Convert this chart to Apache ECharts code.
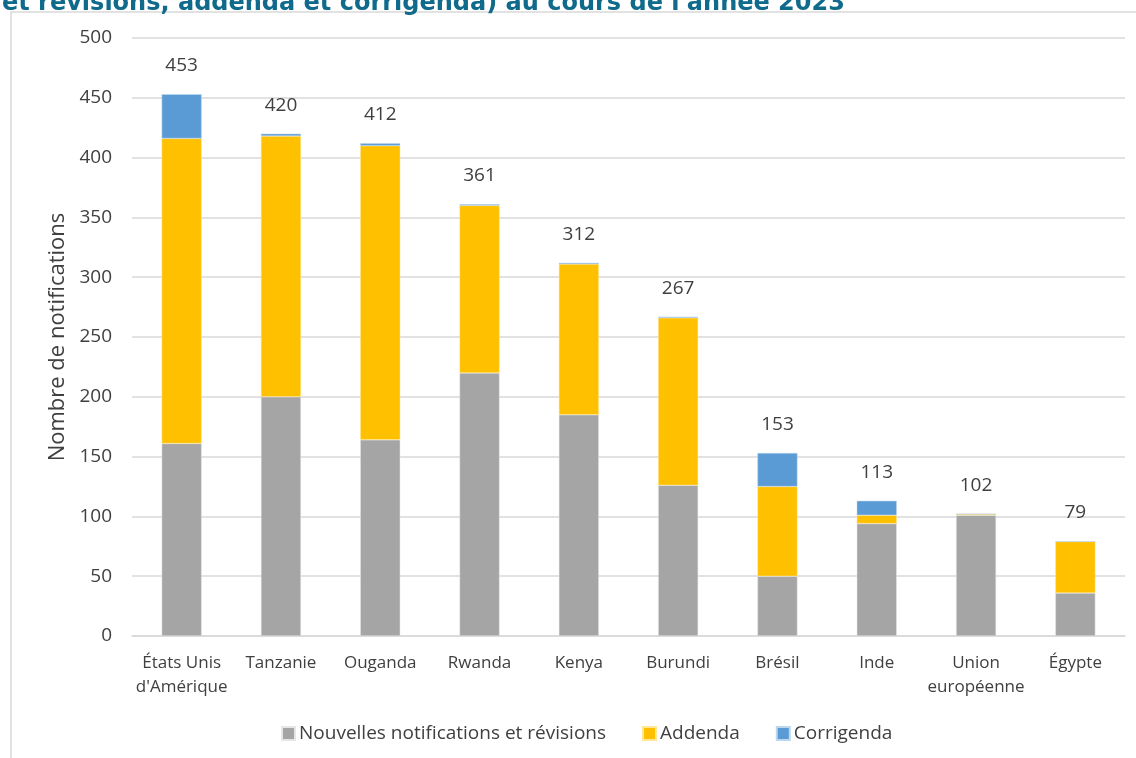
<!DOCTYPE html>
<html>
<head>
<meta charset="utf-8">
<script src="https://cdn.jsdelivr.net/npm/echarts@6/dist/echarts.min.js"></script>
<style>
  html, body { margin: 0; padding: 0; background: #ffffff; }
  #chart { width: 1136px; height: 758px; }
</style>
</head>
<body>
<div id="chart"></div>
<script>
// Notifications by member, 2023
const categories = ["États Unis\nd'Amérique", 'Tanzanie', 'Ouganda', 'Rwanda', 'Kenya', 'Burundi', 'Brésil', 'Inde', 'Union\neuropéenne', 'Égypte'];
const nouvelles  = [161, 200, 164, 220, 185, 126, 50, 94, 101, 36];
const addenda    = [255, 218, 246, 140, 126, 140, 75,  7,   1, 43];
const corrigenda = [ 37,   2,   2,   1,   1,   1, 28, 12,   0,  0];
const seriesNames = ['Nouvelles notifications et révisions', 'Addenda', 'Corrigenda'];
const yTicks = { min: 0, max: 500, interval: 50 };

const totals = categories.map((_, i) => nouvelles[i] + addenda[i] + corrigenda[i]);

const FONT = 'Open Sans';
const TEXT = '#404040';
const chart = echarts.init(document.getElementById('chart'), null, { renderer: 'canvas' });

chart.setOption({
  backgroundColor: '#ffffff',
  animation: false,
  textStyle: { fontFamily: FONT },
  graphic: [
    {
      type: 'rect',
      shape: { x: 11, y: 12, width: 1200, height: 800 },
      style: { fill: 'none', stroke: '#d9d9d9', lineWidth: 1.5 },
      silent: true, z: -10
    },
    {
      type: 'text',
      x: 2, y: -8,
      style: {
        text: "et révisions, addenda et corrigenda) au cours de l'année 2023",
        font: 'bold 24px "DejaVu Sans"',
        fill: '#0f6a8b',
        align: 'left', verticalAlign: 'top'
      },
      silent: true
    }
  ],
  grid: { left: 132, right: 11, top: 38, bottom: 122, containLabel: false },
  legend: {
    bottom: 10,
    left: 276,
    itemWidth: 13, itemHeight: 13, itemGap: 36,
    icon: 'rect',
    textStyle: { fontSize: 19, color: TEXT, fontFamily: FONT, padding: [0, 0, 0, -1] },
    data: seriesNames
  },
  xAxis: {
    type: 'category',
    data: categories,
    axisLine: { lineStyle: { color: '#d9d9d9', width: 1.5 } },
    axisTick: { show: false },
    axisLabel: { color: TEXT, fontSize: 17, margin: 15, lineHeight: 24, interval: 0 }
  },
  yAxis: {
    type: 'value',
    min: yTicks.min, max: yTicks.max, interval: yTicks.interval,
    name: 'Nombre de notifications',
    nameLocation: 'middle',
    nameGap: 62,
    nameTextStyle: { color: TEXT, fontSize: 22, fontFamily: FONT },
    axisLine: { show: false },
    axisTick: { show: false },
    axisLabel: { color: TEXT, fontSize: 19, margin: 20 },
    splitLine: { lineStyle: { color: '#d9d9d9', width: 1.5 } }
  },
  series: [
    {
      name: seriesNames[0], type: 'bar', stack: 'total', barWidth: 40,
      data: nouvelles,
      itemStyle: { color: '#a5a5a5', borderColor: '#e6e6e6', borderWidth: 0.5 }
    },
    {
      name: seriesNames[1], type: 'bar', stack: 'total', barWidth: 40,
      data: addenda,
      itemStyle: { color: '#ffc000', borderColor: '#ffe699', borderWidth: 0.5 }
    },
    {
      name: seriesNames[2], type: 'bar', stack: 'total', barWidth: 40,
      data: corrigenda,
      itemStyle: { color: '#5b9bd5', borderColor: '#bdd7ee', borderWidth: 0.5 },
      label: {
        show: true, position: 'top', distance: 19,
        color: TEXT, fontSize: 19, fontFamily: FONT,
        formatter: p => String(totals[p.dataIndex])
      }
    }
  ]
});
</script>
</body>
</html>
